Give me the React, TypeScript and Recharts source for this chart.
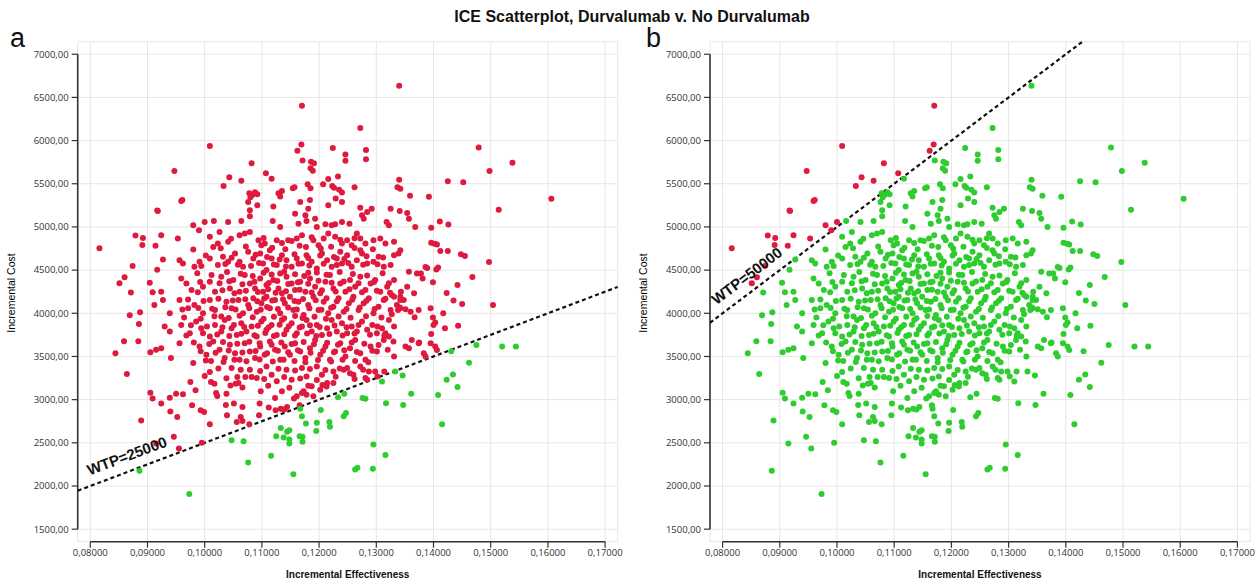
import React from 'react';
import {
  ScatterChart,
  Scatter,
  XAxis,
  YAxis,
  CartesianGrid,
  ReferenceLine,
  ReferenceDot,
} from 'recharts';

// axis ticks and ranges
const xTicks = [0.08, 0.09, 0.1, 0.11, 0.12, 0.13, 0.14, 0.15, 0.16, 0.17];
const yTicks = [1500, 2000, 2500, 3000, 3500, 4000, 4500, 5000, 5500, 6000, 6500, 7000];
const xDomain: [number, number] = [0.0778, 0.1722];
const yDomain: [number, number] = [1355, 7145];

// willingness-to-pay thresholds for the two panels
const wtpA = 25000;
const wtpB = 50000;

// simulation results [incremental effectiveness, incremental cost]
const upperLeft: [number, number][] = [
  [0.117, 6404], [0.1009, 5937], [0.0947, 5648], [0.1169, 5956], [0.1162, 5883], [0.1171, 5768],
  [0.1186, 5756], [0.1191, 5737], [0.1224, 5914], [0.1185, 5679], [0.1189, 5652], [0.1082, 5737],
  [0.1107, 5621], [0.1117, 5559], [0.1064, 5536], [0.1043, 5575], [0.1033, 5475], [0.0961, 5313],
  [0.0917, 5189], [0.0918, 5185], [0.0879, 4900], [0.0892, 4873], [0.0891, 4792], [0.0816, 4754],
  [0.0874, 4549], [0.0851, 4349], [0.086, 4418], [0.0871, 4241], [0.0904, 4353], [0.0909, 4245],
  [0.0917, 4503], [0.0914, 4781], [0.108, 5343], [0.1083, 5370], [0.1088, 5401], [0.1092, 5378],
  [0.1078, 5390], [0.1129, 5390], [0.1132, 5351], [0.1135, 5417], [0.1154, 5448], [0.1157, 5459],
  [0.1184, 5313], [0.118, 5494], [0.1185, 5448], [0.1207, 5494], [0.1216, 5555], [0.1223, 5475],
  [0.1226, 5455], [0.1233, 5583], [0.1229, 5328],
];

const upperRight: [number, number][] = [
  [0.134, 6635], [0.1272, 6146], [0.1246, 5838], [0.1246, 5765], [0.1282, 5892], [0.1282, 5784],
  [0.1235, 5430], [0.124, 5399], [0.1262, 5460], [0.134, 5545], [0.1337, 5460], [0.1342, 5441],
  [0.1359, 5360], [0.1392, 5349], [0.1425, 5530], [0.1452, 5518], [0.1479, 5919], [0.1498, 5649],
  [0.1538, 5742], [0.1606, 5326], [0.1292, 5210], [0.1514, 5199], [0.1497, 4594], [0.1468, 4421],
  [0.1442, 4329], [0.1423, 4236], [0.1396, 4991], [0.1411, 5064], [0.1426, 5029], [0.1396, 4818],
  [0.1402, 4806], [0.1406, 4798], [0.1412, 4721], [0.1425, 4721], [0.1448, 4683], [0.1455, 4664],
  [0.1386, 4536], [0.1389, 4525], [0.1405, 4506], [0.1408, 4529], [0.1378, 4460], [0.1381, 4402],
  [0.1399, 4359], [0.1368, 4998],
];

const core: [number, number][] = [
  [0.0959, 5300], [0.1076, 5288], [0.1092, 5250], [0.112, 5238], [0.1167, 5288], [0.1181, 5212],
  [0.1216, 5250], [0.124, 5288], [0.1272, 5223], [0.1284, 5173], [0.1325, 5212], [0.1341, 5185],
  [0.1354, 5162], [0.1079, 5192], [0.1079, 5123],
  [0.1158, 5154], [0.1176, 5135], [0.1178, 5069], [0.1193, 5096], [0.1211, 5031], [0.1222, 5019],
  [0.124, 5058], [0.1253, 5038], [0.1275, 5135], [0.1278, 5096], [0.1318, 5058], [0.1322, 5019],
  [0.1357, 5096], [0.098, 5019], [0.099, 4962], [0.1, 5058], [0.1016, 5069], [0.1041, 5058],
  [0.1064, 5069], [0.1119, 5069], [0.1132, 5000], [0.1164, 5038], [0.1228, 5031],
  [0.0924, 4904], [0.0953, 4865], [0.098, 4738], [0.1009, 4885], [0.1015, 4769], [0.1023, 4808],
  [0.1041, 4827], [0.1061, 4904], [0.107, 4923], [0.1079, 4942], [0.1094, 4846], [0.1099, 4788],
  [0.1105, 4808], [0.1114, 4731], [0.1126, 4846], [0.1135, 4815], [0.1146, 4846], [0.1161, 4865],
  [0.117, 4904], [0.1177, 4769], [0.119, 4846], [0.1199, 4788], [0.1208, 4865], [0.1216, 4923],
  [0.1228, 4885], [0.124, 4808], [0.1249, 4846], [0.1257, 4788], [0.1266, 4923], [0.1272, 4865],
  [0.1281, 4808], [0.1295, 4846], [0.1307, 4865], [0.1316, 4808], [0.1331, 4827], [0.1339, 4692],
  [0.1026, 4942], [0.1196, 5000],
  [0.0927, 4623], [0.0956, 4615], [0.0962, 4577], [0.0982, 4538], [0.0991, 4596], [0.1009, 4635],
  [0.1023, 4558], [0.1032, 4654], [0.1041, 4596], [0.1053, 4692], [0.1061, 4596], [0.1067, 4538],
  [0.1076, 4712], [0.1085, 4635], [0.1097, 4692], [0.1102, 4577], [0.1108, 4500], [0.1117, 4635],
  [0.1126, 4558], [0.1135, 4673], [0.1143, 4615], [0.1152, 4538], [0.1161, 4635], [0.117, 4577],
  [0.1178, 4673], [0.1187, 4596], [0.1196, 4519], [0.1205, 4692], [0.1214, 4615], [0.1222, 4538],
  [0.1231, 4635], [0.124, 4577], [0.1249, 4673], [0.1257, 4538], [0.1266, 4615], [0.1275, 4692],
  [0.1284, 4577], [0.1295, 4596], [0.1304, 4654], [0.1313, 4538], [0.1325, 4558], [0.1331, 4673],
  [0.1342, 4731], [0.1357, 4481], [0.1371, 4462], [0.1272, 4731], [0.1237, 4712],
  [0.0924, 4250], [0.0959, 4404], [0.0968, 4346], [0.0977, 4269], [0.0997, 4308], [0.1009, 4365],
  [0.1018, 4250], [0.1029, 4423], [0.1044, 4288], [0.105, 4385], [0.1061, 4250], [0.107, 4442],
  [0.1079, 4346], [0.1088, 4288], [0.1097, 4404], [0.1102, 4250], [0.1108, 4327], [0.112, 4385],
  [0.1129, 4288], [0.1135, 4231], [0.1143, 4423], [0.1152, 4346], [0.1158, 4269], [0.1167, 4365],
  [0.1176, 4250], [0.1184, 4404], [0.1193, 4308], [0.1202, 4231], [0.1211, 4365], [0.1219, 4442],
  [0.1225, 4288], [0.1237, 4346], [0.1246, 4250], [0.1254, 4385], [0.1263, 4308], [0.1272, 4423],
  [0.1281, 4269], [0.129, 4346], [0.1298, 4385], [0.1307, 4250], [0.1319, 4308], [0.1331, 4385],
  [0.1342, 4192], [0.1354, 4308], [0.1366, 4231], [0.1132, 4462], [0.1181, 4469],
  [0.0927, 4154], [0.0939, 4000], [0.0956, 4154], [0.0971, 4058], [0.0982, 4096], [0.0997, 4000],
  [0.1009, 4154], [0.1018, 4038], [0.1029, 3962], [0.1038, 4135], [0.1047, 4058], [0.1059, 4154],
  [0.1067, 4000], [0.1076, 4096], [0.1085, 4173], [0.1091, 4019], [0.1099, 4115], [0.1108, 4192],
  [0.1114, 4058], [0.1123, 4154], [0.1132, 4000], [0.114, 4115], [0.1149, 4192], [0.1155, 4038],
  [0.1164, 4135], [0.1173, 3981], [0.1181, 4096], [0.119, 4192], [0.1199, 4038], [0.1208, 4135],
  [0.1216, 4000], [0.1225, 4077], [0.1234, 4173], [0.1243, 4019], [0.1252, 4115], [0.126, 4192],
  [0.1269, 4038], [0.1278, 4115], [0.1287, 4173], [0.1295, 4000], [0.1304, 4077], [0.1313, 4154],
  [0.1325, 4038], [0.1336, 4096], [0.1348, 4154], [0.136, 4019], [0.1374, 4038], [0.1331, 4192],
  [0.093, 3846], [0.0939, 3788], [0.0959, 3865], [0.0974, 3769], [0.0985, 3904], [0.0994, 3827],
  [0.1009, 3731], [0.1018, 3865], [0.1029, 3788], [0.1035, 3923], [0.1047, 3827], [0.1056, 3750],
  [0.1064, 3885], [0.1073, 3788], [0.1082, 3846], [0.1091, 3731], [0.1099, 3904], [0.1108, 3808],
  [0.1117, 3865], [0.1126, 3750], [0.1135, 3923], [0.1143, 3808], [0.1152, 3885], [0.1161, 3769],
  [0.117, 3846], [0.1178, 3923], [0.1187, 3788], [0.1196, 3865], [0.1205, 3750], [0.1214, 3827],
  [0.1222, 3923], [0.1231, 3788], [0.124, 3885], [0.1249, 3769], [0.1257, 3846], [0.1266, 3788],
  [0.1275, 3904], [0.1284, 3808], [0.1293, 3865], [0.1301, 3769], [0.131, 3827], [0.1322, 3731],
  [0.1331, 3846], [0.1351, 3615], [0.1322, 3923],
  [0.0924, 3596], [0.0941, 3481], [0.0956, 3654], [0.098, 3423], [0.0991, 3615], [0.1003, 3519],
  [0.1015, 3673], [0.1026, 3577], [0.1035, 3481], [0.1044, 3635], [0.1053, 3538], [0.1061, 3462],
  [0.107, 3654], [0.1079, 3558], [0.1088, 3481], [0.1097, 3615], [0.1105, 3519], [0.1114, 3673],
  [0.1123, 3577], [0.1132, 3462], [0.114, 3615], [0.1149, 3519], [0.1158, 3654], [0.1167, 3558],
  [0.1176, 3481], [0.1184, 3596], [0.1193, 3692], [0.1202, 3519], [0.1211, 3615], [0.1219, 3462],
  [0.1228, 3558], [0.1237, 3654], [0.1246, 3500], [0.1254, 3596], [0.1263, 3692], [0.1272, 3538],
  [0.1281, 3462], [0.129, 3615], [0.1301, 3558], [0.1313, 3692], [0.1331, 3500], [0.1357, 3596],
  [0.1374, 3654],
  [0.1047, 3365], [0.1079, 3346], [0.1091, 3250], [0.1059, 3192], [0.1108, 3385], [0.1117, 3288],
  [0.1126, 3212], [0.1135, 3096], [0.1143, 3346], [0.1152, 3231], [0.1161, 3038], [0.117, 3365],
  [0.1178, 3269], [0.1187, 3154], [0.1196, 3385], [0.1205, 3288], [0.1214, 3192], [0.1225, 3327],
  [0.1249, 3365], [0.126, 3288], [0.1272, 3385], [0.1287, 3327], [0.1123, 3019], [0.1173, 3096],
];

// the packed centre of the cloud, where dots overlap
const coreDense: [number, number][] = [
  [0.1046, 4862], [0.1103, 4871], [0.1152, 4838], [0.1187, 4880], [0.1237, 4851], [0.1262, 4869],
  [0.1028, 4752], [0.1072, 4774], [0.1118, 4760], [0.1141, 4741], [0.1166, 4783], [0.1203, 4749],
  [0.1221, 4770], [0.1262, 4755], [0.1294, 4742],
  [0.1002, 4668], [0.1047, 4644], [0.1089, 4677], [0.1109, 4652], [0.1131, 4623], [0.1157, 4684],
  [0.1181, 4641], [0.1202, 4668], [0.1226, 4651], [0.1244, 4628], [0.1283, 4660], [0.1312, 4645],
  [0.0994, 4547], [0.1036, 4572], [0.1058, 4561], [0.1081, 4548], [0.1095, 4583], [0.1121, 4566],
  [0.1142, 4541], [0.1164, 4573], [0.1183, 4552], [0.1208, 4574], [0.1231, 4559], [0.1251, 4582],
  [0.1277, 4561], [0.1302, 4569],
  [0.0987, 4463], [0.1012, 4442], [0.1039, 4478], [0.1063, 4457], [0.1084, 4431], [0.1103, 4469],
  [0.1117, 4448], [0.1139, 4482], [0.1158, 4451], [0.1174, 4433], [0.1196, 4471], [0.1213, 4447],
  [0.1236, 4479], [0.1259, 4456], [0.1284, 4438], [0.1311, 4465],
  [0.0992, 4362], [0.1026, 4348], [0.1043, 4371], [0.1066, 4337], [0.1087, 4366], [0.1112, 4351],
  [0.1127, 4373], [0.1146, 4338], [0.1163, 4359], [0.1181, 4342], [0.1199, 4377], [0.1222, 4353],
  [0.1243, 4368], [0.1269, 4349], [0.1296, 4361], [0.1322, 4347],
  [0.0988, 4244], [0.1031, 4268], [0.1052, 4233], [0.1072, 4261], [0.1093, 4247], [0.1111, 4279],
  [0.1124, 4238], [0.1142, 4256], [0.1166, 4272], [0.1187, 4241], [0.1205, 4266], [0.1229, 4251],
  [0.1253, 4277], [0.1275, 4243], [0.1301, 4262], [0.1324, 4239],
  [0.0971, 4161], [0.0998, 4143], [0.1024, 4168], [0.1049, 4147], [0.1071, 4163], [0.1092, 4139],
  [0.1104, 4171], [0.1118, 4148], [0.1137, 4164], [0.1157, 4142], [0.1172, 4166], [0.1194, 4151],
  [0.1213, 4174], [0.1231, 4139], [0.1258, 4158], [0.1283, 4146], [0.1316, 4169],
  [0.0961, 4043], [0.0989, 4062], [0.1013, 4052], [0.1036, 4071], [0.1054, 4044], [0.1078, 4059],
  [0.1098, 4041], [0.1109, 4073], [0.1128, 4049], [0.1146, 4066], [0.1161, 4043], [0.1183, 4058],
  [0.1204, 4041], [0.1221, 4064], [0.1248, 4049], [0.1271, 4068], [0.1297, 4051], [0.1342, 4058],
  [0.0964, 3952], [0.0993, 3938], [0.1017, 3965], [0.1042, 3946], [0.1061, 3971], [0.1084, 3953],
  [0.1103, 3936], [0.1121, 3961], [0.1139, 3942], [0.1158, 3968], [0.1171, 3946], [0.1192, 3959],
  [0.1212, 3937], [0.1234, 3962], [0.1255, 3947], [0.1282, 3966], [0.1309, 3952],
  [0.0976, 3861], [0.1004, 3848], [0.1031, 3837], [0.1051, 3863], [0.1069, 3842], [0.1093, 3857],
  [0.1112, 3838], [0.1131, 3866], [0.1147, 3851], [0.1166, 3834], [0.1184, 3862], [0.1201, 3841],
  [0.1227, 3858], [0.1248, 3837], [0.1269, 3863], [0.1302, 3848],
  [0.0968, 3742], [0.0997, 3768], [0.1022, 3753], [0.1043, 3737], [0.1064, 3764], [0.1087, 3746],
  [0.1106, 3771], [0.1121, 3738], [0.1139, 3757], [0.1158, 3742], [0.1179, 3766], [0.1195, 3738],
  [0.1218, 3761], [0.1241, 3744], [0.1262, 3766], [0.1289, 3751], [0.1314, 3739],
  [0.0981, 3661], [0.1008, 3643], [0.1032, 3667], [0.1057, 3648], [0.1078, 3671], [0.1096, 3652],
  [0.1117, 3636], [0.1134, 3662], [0.1152, 3644], [0.1173, 3667], [0.1191, 3641], [0.1214, 3658],
  [0.1233, 3636], [0.1257, 3661], [0.1279, 3647], [0.1304, 3633],
  [0.0993, 3561], [0.1019, 3542], [0.1042, 3568], [0.1066, 3547], [0.1089, 3562], [0.1109, 3538],
  [0.1128, 3566], [0.1146, 3549], [0.1163, 3571], [0.1185, 3543], [0.1207, 3566], [0.1226, 3548],
  [0.1244, 3571], [0.1266, 3552], [0.1293, 3567],
  [0.1011, 3448], [0.1033, 3437], [0.1052, 3461], [0.1073, 3444], [0.1096, 3466], [0.1119, 3441],
  [0.1138, 3463], [0.1157, 3447], [0.1176, 3432], [0.1198, 3459], [0.1221, 3441], [0.1241, 3463],
  [0.1263, 3447], [0.1286, 3433],
  [0.1024, 3362], [0.1063, 3347], [0.1097, 3331], [0.1129, 3358], [0.1158, 3337], [0.1184, 3356],
  [0.1211, 3342], [0.1236, 3361], [0.1277, 3347],
  [0.1038, 3247], [0.1071, 3262], [0.1104, 3238], [0.1139, 3261], [0.1167, 3244], [0.1196, 3228],
  [0.1229, 3266], [0.1262, 3238],
  [0.1066, 3142], [0.1111, 3161], [0.1148, 3138], [0.1181, 3162], [0.1206, 3171],
];

const lowerLeft: [number, number][] = [
  [0.0869, 3977], [0.0887, 4012], [0.0885, 3877], [0.0859, 3677], [0.0884, 3677], [0.0844, 3538],
  [0.0864, 3296], [0.0889, 2758], [0.0886, 2177], [0.0973, 1908], [0.0905, 3550], [0.0915, 3577],
  [0.0912, 4096], [0.0905, 3081], [0.0909, 3012], [0.0924, 2954], [0.0939, 3023], [0.094, 2862],
  [0.0952, 2800], [0.095, 3069], [0.0962, 3062], [0.0946, 2569], [0.0915, 2492], [0.0955, 2435],
  [0.0995, 2500], [0.0975, 3204], [0.0984, 3108], [0.0978, 2935], [0.0993, 2877], [0.0999, 2858],
  [0.1009, 2715], [0.1002, 3454], [0.1009, 3319], [0.1, 3273], [0.1011, 3204], [0.1017, 3185],
  [0.102, 3077], [0.1022, 3042], [0.1037, 2938], [0.1039, 2819], [0.1038, 3069], [0.1045, 3165],
  [0.1054, 3185], [0.1057, 3262], [0.1051, 2954], [0.1066, 2915], [0.1063, 2800], [0.1056, 2742],
  [0.1066, 2754], [0.1078, 2715], [0.1082, 3262], [0.1098, 3096], [0.1096, 2954], [0.1095, 2819],
  [0.1112, 2908], [0.1124, 2877], [0.1133, 2896], [0.1139, 2885], [0.1144, 2915], [0.1156, 3012],
  [0.1166, 2935], [0.1047, 2531], [0.1068, 2519], [0.1076, 2273], [0.1116, 2350], [0.1155, 2135],
  [0.1133, 2673], [0.1125, 2577], [0.1138, 2562], [0.1144, 2627], [0.1148, 2646], [0.1148, 2538],
  [0.1148, 2492], [0.1166, 2577], [0.1171, 2569], [0.1171, 2512], [0.1177, 2723], [0.117, 2808],
  [0.1167, 2896], [0.1195, 2638], [0.1196, 2731], [0.1203, 2881], [0.1218, 2742], [0.1219, 2685],
  [0.1233, 3027],
];

const lowerRight: [number, number][] = [
  [0.1504, 4096], [0.1435, 4147], [0.145, 4108], [0.1395, 4058], [0.1399, 3950], [0.1403, 3892],
  [0.14, 3865], [0.1417, 4000], [0.142, 3827], [0.1443, 3857], [0.1396, 3761], [0.1395, 3653],
  [0.1403, 3615], [0.1406, 3576], [0.1383, 3538], [0.1386, 3500], [0.1375, 3661], [0.1362, 3692],
  [0.1367, 3954], [0.1351, 4046], [0.1341, 4066], [0.1338, 4039], [0.1342, 4154], [0.1343, 4250],
  [0.1327, 4212], [0.1316, 3769], [0.132, 3577], [0.133, 3673], [0.1327, 3988], [0.1298, 3327],
  [0.1302, 3269], [0.1314, 3327], [0.1281, 3250], [0.1284, 3230], [0.1243, 3346], [0.1254, 3307],
  [0.1225, 3192], [0.1213, 3153], [0.1202, 3115], [0.119, 3038], [0.1178, 3057], [0.117, 3077],
  [0.131, 3211], [0.1333, 3325], [0.1346, 3280], [0.1431, 3560], [0.1475, 3634], [0.152, 3615],
  [0.1544, 3615], [0.1462, 3426], [0.1423, 3230], [0.1434, 3292], [0.1442, 3145], [0.1361, 3069],
  [0.1408, 3053], [0.1415, 2715], [0.1347, 2938], [0.1317, 2958], [0.1281, 3011], [0.1276, 3019],
  [0.1244, 3069], [0.1243, 2807], [0.1247, 2846], [0.1295, 2481], [0.1316, 2358], [0.1263, 2192],
  [0.1267, 2211], [0.1294, 2200],
];

const points = [...upperLeft, ...upperRight, ...core, ...coreDense, ...lowerLeft, ...lowerRight].map(
  ([effect, cost]) => ({ effect, cost })
);

const RED = '#de1a3e';
const GREEN = '#2ecc2e';
const AXIS = '#333';
const GRID = '#e6e6e6';
const PLOT_W = 540;
const PLOT_H = 500;
const TITLE_FONT = "'Liberation Sans', Arial, sans-serif";
const TICK_FONT = "'Open Sans', sans-serif";

const fmtX = (v: number) => v.toFixed(5).replace('.', ',');
const fmtY = (v: number) => v.toFixed(2).replace('.', ',');

const dot = (color: string) => (p: any) => <circle cx={p.cx} cy={p.cy} r={3} fill={color} />;

type PanelProps = {
  left: number;
  width: number;
  marginLeft: number;
  marginRight: number;
  wtp: number;
  labelAt: number;
};

const Panel = ({ left, width, marginLeft, marginRight, wtp, labelAt }: PanelProps) => {
  const above = points.filter((p) => p.cost > wtp * p.effect);
  const below = points.filter((p) => p.cost <= wtp * p.effect);
  const xEnd = Math.min(xDomain[1], yDomain[1] / wtp);
  const pxPerX = PLOT_W / (xDomain[1] - xDomain[0]);
  const pxPerY = PLOT_H / (yDomain[1] - yDomain[0]);
  const angle = (-Math.atan((wtp * pxPerY) / pxPerX) * 180) / Math.PI;

  const wtpLabel = (p: any) => (
    <text
      x={p.cx}
      y={p.cy}
      dy={-10}
      transform={`rotate(${angle} ${p.cx} ${p.cy})`}
      fontFamily={TITLE_FONT}
      fontWeight="bold"
      fontSize={15}
      fill="#111"
    >
      {`WTP=${wtp}`}
    </text>
  );

  return (
    <div style={{ position: 'absolute', left, top: 0 }}>
      <ScatterChart
        width={width}
        height={581}
        margin={{ top: 41.7, right: marginRight, bottom: 9.3, left: marginLeft }}
      >
        <CartesianGrid stroke={GRID} strokeWidth={1} />
        <XAxis
          type="number"
          dataKey="effect"
          domain={xDomain}
          ticks={xTicks}
          allowDataOverflow
          interval={0}
          tickFormatter={fmtX}
          axisLine={false}
          tickLine={{ stroke: AXIS, strokeWidth: 1.2 }}
          tickSize={6}
          tickMargin={2}
          height={30}
          tick={{ fontSize: 9.5, fill: AXIS, fontFamily: TICK_FONT }}
        />
        <YAxis
          type="number"
          dataKey="cost"
          domain={yDomain}
          ticks={yTicks}
          allowDataOverflow
          interval={0}
          tickFormatter={fmtY}
          axisLine={false}
          tickLine={{ stroke: AXIS, strokeWidth: 1.2 }}
          tickSize={6}
          tickMargin={3}
          width={60}
          tick={{ fontSize: 9.5, fill: AXIS, fontFamily: TICK_FONT }}
        />
        <Scatter data={above} shape={dot(RED)} isAnimationActive={false} />
        <Scatter data={below} shape={dot(GREEN)} isAnimationActive={false} />
        <ReferenceLine
          segment={[
            { x: xTicks[0], y: yDomain[0] },
            { x: xTicks[xTicks.length - 1], y: yDomain[0] },
          ]}
          stroke={AXIS}
          strokeWidth={1.6}
          ifOverflow="visible"
        />
        <ReferenceLine
          segment={[
            { x: xDomain[0], y: yTicks[0] },
            { x: xDomain[0], y: yTicks[yTicks.length - 1] },
          ]}
          stroke={AXIS}
          strokeWidth={1.6}
          ifOverflow="visible"
        />
        <ReferenceLine
          segment={[
            { x: xDomain[0], y: wtp * xDomain[0] },
            { x: xEnd, y: wtp * xEnd },
          ]}
          stroke="#111"
          strokeWidth={2.2}
          strokeDasharray="4 3"
          ifOverflow="visible"
        />
        <ReferenceDot x={labelAt} y={wtp * labelAt} r={0} shape={wtpLabel} ifOverflow="visible" />
      </ScatterChart>
    </div>
  );
};

const App = () => (
  <div style={{ position: 'absolute', left: 0, top: 0, width: 1260, height: 581, background: '#fff' }}>
    <Panel left={0} width={630} marginLeft={17.7} marginRight={12.3} wtp={wtpA} labelAt={0.0805} />
    <Panel left={632} width={628} marginLeft={18} marginRight={10} wtp={wtpB} labelAt={0.08} />
    <svg
      width={1260}
      height={581}
      style={{ position: 'absolute', left: 0, top: 0, pointerEvents: 'none' }}
    >
      <text x={632} y={21.5} textAnchor="middle" fontFamily={TITLE_FONT} fontWeight="bold" fontSize={16} fill="#111">
        ICE Scatterplot, Durvalumab v. No Durvalumab
      </text>
      <text x={10} y={47} fontFamily={TITLE_FONT} fontSize={27} fill="#111">a</text>
      <text x={646} y={47} fontFamily={TITLE_FONT} fontSize={27} fill="#111">b</text>
      <text x={347.7} y={577.5} textAnchor="middle" fontFamily={TITLE_FONT} fontWeight="bold" fontSize={10} fill="#111">
        Incremental Effectiveness
      </text>
      <text x={980} y={577.5} textAnchor="middle" fontFamily={TITLE_FONT} fontWeight="bold" fontSize={10} fill="#111">
        Incremental Effectiveness
      </text>
      <text x={15} y={293} transform="rotate(-90 15 293)" textAnchor="middle" fontFamily={TITLE_FONT} fontSize={10.5} fill="#000">
        Incremental Cost
      </text>
      <text x={647} y={293} transform="rotate(-90 647 293)" textAnchor="middle" fontFamily={TITLE_FONT} fontSize={10.5} fill="#000">
        Incremental Cost
      </text>
    </svg>
  </div>
);

export default App;
